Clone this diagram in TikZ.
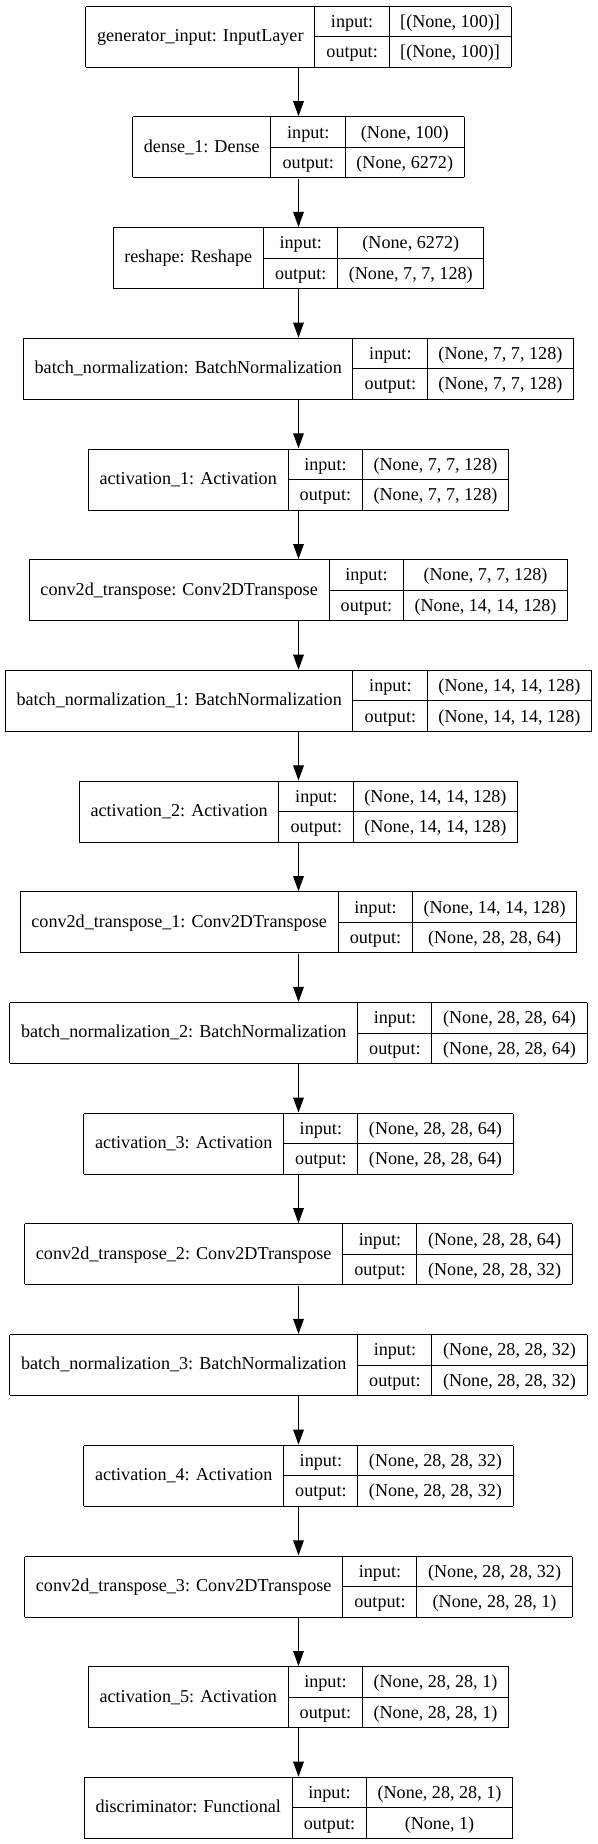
\documentclass[tikz,border=0pt]{standalone}
\usepackage{fontspec}
\setmainfont{Liberation Serif}
\usetikzlibrary{arrows.meta}
\setlength{\tabcolsep}{8.4pt}
\setlength{\arrayrulewidth}{0.75pt}
\newcommand{\layerbox}[3]{\begin{tabular}{|c|@{}c@{}|}\hline
  #1 & \begin{tabular}{c|c} input: & #2 \\ \hline output: & #3 \end{tabular} \\ \hline
\end{tabular}}
\tikzset{
  layer/.style={inner sep=0pt, anchor=north, font=\fontsize{13.6}{22.1}\selectfont},
  flow/.style={-{Triangle[length=11.25pt,width=8pt]}, line width=0.75pt}
}
\begin{document}
\begin{tikzpicture}[x=0.75pt,y=-0.75pt]
  \useasboundingbox (0,0) rectangle (597,1844);
  \node[layer] (gen) at (298.5,5.5) {\layerbox{generator\_input: InputLayer}{[(None, 100)]}{[(None, 100)]}};
  \node[layer] (dense) at (298.5,116.2) {\layerbox{dense\_1: Dense}{(None, 100)}{(None, 6272)}};
  \node[layer] (reshape) at (298.5,226.9) {\layerbox{reshape: Reshape}{(None, 6272)}{(None, 7, 7, 128)}};
  \node[layer] (bn) at (298.5,337.6) {\layerbox{batch\_normalization: BatchNormalization}{(None, 7, 7, 128)}{(None, 7, 7, 128)}};
  \node[layer] (act1) at (298.5,448.3) {\layerbox{activation\_1: Activation}{(None, 7, 7, 128)}{(None, 7, 7, 128)}};
  \node[layer] (convt) at (298.5,559.0) {\layerbox{conv2d\_transpose: Conv2DTranspose}{(None, 7, 7, 128)}{(None, 14, 14, 128)}};
  \node[layer] (bn1) at (298.5,669.7) {\layerbox{batch\_normalization\_1: BatchNormalization}{(None, 14, 14, 128)}{(None, 14, 14, 128)}};
  \node[layer] (act2) at (298.5,780.4) {\layerbox{activation\_2: Activation}{(None, 14, 14, 128)}{(None, 14, 14, 128)}};
  \node[layer] (convt1) at (298.5,891.1) {\layerbox{conv2d\_transpose\_1: Conv2DTranspose}{(None, 14, 14, 128)}{(None, 28, 28, 64)}};
  \node[layer] (bn2) at (298.5,1001.8) {\layerbox{batch\_normalization\_2: BatchNormalization}{(None, 28, 28, 64)}{(None, 28, 28, 64)}};
  \node[layer] (act3) at (298.5,1112.5) {\layerbox{activation\_3: Activation}{(None, 28, 28, 64)}{(None, 28, 28, 64)}};
  \node[layer] (convt2) at (298.5,1223.2) {\layerbox{conv2d\_transpose\_2: Conv2DTranspose}{(None, 28, 28, 64)}{(None, 28, 28, 32)}};
  \node[layer] (bn3) at (298.5,1333.9) {\layerbox{batch\_normalization\_3: BatchNormalization}{(None, 28, 28, 32)}{(None, 28, 28, 32)}};
  \node[layer] (act4) at (298.5,1444.6) {\layerbox{activation\_4: Activation}{(None, 28, 28, 32)}{(None, 28, 28, 32)}};
  \node[layer] (convt3) at (298.5,1555.3) {\layerbox{conv2d\_transpose\_3: Conv2DTranspose}{(None, 28, 28, 32)}{(None, 28, 28, 1)}};
  \node[layer] (act5) at (298.5,1666.0) {\layerbox{activation\_5: Activation}{(None, 28, 28, 1)}{(None, 28, 28, 1)}};
  \node[layer] (disc) at (298.5,1776.7) {\layerbox{discriminator: Functional}{(None, 28, 28, 1)}{(None, 1)}};
  % model flow
  \draw[flow] (gen) -- (dense);
  \draw[flow] (dense) -- (reshape);
  \draw[flow] (reshape) -- (bn);
  \draw[flow] (bn) -- (act1);
  \draw[flow] (act1) -- (convt);
  \draw[flow] (convt) -- (bn1);
  \draw[flow] (bn1) -- (act2);
  \draw[flow] (act2) -- (convt1);
  \draw[flow] (convt1) -- (bn2);
  \draw[flow] (bn2) -- (act3);
  \draw[flow] (act3) -- (convt2);
  \draw[flow] (convt2) -- (bn3);
  \draw[flow] (bn3) -- (act4);
  \draw[flow] (act4) -- (convt3);
  \draw[flow] (convt3) -- (act5);
  \draw[flow] (act5) -- (disc);
\end{tikzpicture}
\end{document}
